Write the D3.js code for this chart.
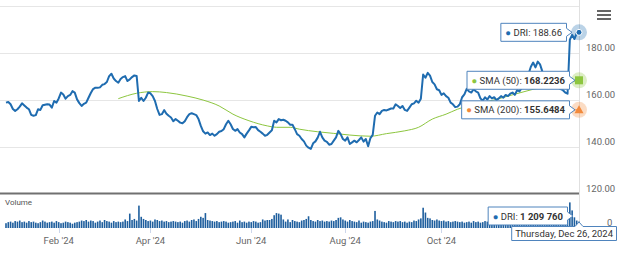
<!DOCTYPE html>
<html>
<head>
<meta charset="utf-8">
<script src="https://cdn.jsdelivr.net/npm/d3@7"></script>
<style>
  body { margin: 0; background: #fff; }
  text { font-family: Roboto, sans-serif; }
</style>
</head>
<body>
<script>
// daily closes, Dec 28 2023 .. Dec 26 2024 (trading days)
var price = [
  158.7,159,158,156,155.2,155.9,157,158.4,157.5,156.6,
  155.9,153.5,153.1,153.4,155.9,155.6,157.6,157.8,158,157.9,
  156.6,159.4,158.7,160.5,163,162.2,160.4,161.5,162,163.6,
  163,160.1,158.5,157.3,158.2,158.7,160.8,162.8,164.5,165.1,
  165,165.2,166.3,166.6,167.5,170,171,169,167.9,167.2,
  168.8,169.6,170,167.9,168.6,169.6,170.3,170.1,159.4,160.8,
  159.4,160.8,163,162.7,161.5,159.4,156,153.5,153.8,155.5,
  154,153.1,152.4,150.8,151.7,151,150.2,149.9,150.8,152.5,
  153.8,154.2,153.8,153.4,151.7,148.8,146.5,145.5,146,144.9,
  145.5,144.6,145.3,146.3,146.6,147.4,149.5,151,149.5,147.5,
  146.7,147.4,146,145.3,143.9,145.5,146.9,148.4,148.2,148.3,
  147,146.3,145.5,144.6,145,146,146.9,151,150.3,151.7,
  151.2,151.4,151,150.3,149.3,149.3,147.4,145.3,144.6,143.2,
  142.2,140.4,139.5,139,141.4,142.2,143.8,146.3,143.9,142.5,
  142,140.8,141.1,142.5,143.9,146.7,145.3,143.2,142.5,143.9,
  141.1,141.8,142.5,141.8,142.8,143.9,142.1,143.2,140.1,143.6,
  145,153.1,154.5,153.8,155.2,155.6,155.4,155.8,156.2,156.2,
  158,157.3,156.4,157.3,155.6,155.2,156.6,158,158.4,159.5,
  158.7,160.4,170.7,169.3,171.4,170.2,167.5,166.5,164.4,164,
  162,162.7,161.5,160.8,158.7,158,156.8,157,158,161,
  162.2,164.6,163.5,163,164.4,163.5,163,160.5,159.5,161,
  160,161.5,160.5,161,159.8,160.5,161.5,160.8,162,161.5,
  162.5,163,162,164,163.5,165,167.5,169.4,171,174,
  175.8,173.7,176.2,175,172,170,168.5,167.5,166.5,166,
  166.2,165,164.5,164,163,162.5,185.5,187.6,185.8,188.3,188.66
];

// daily volume, millions of shares
var volume = [
  0.9,1.1,1.2,1.0,1.3,1.2,1.4,1.1,1.2,1.0,
  1.3,1.1,1.2,1.0,0.9,1.1,1.4,1.2,1.0,1.1,
  1.2,1.0,1.3,1.1,0.9,1.0,1.2,1.1,1.0,0.8,
  1.0,1.1,1.2,1.4,1.3,1.5,1.2,1.4,1.3,1.0,
  1.2,1.4,1.1,1.5,1.3,1.2,1.0,1.3,1.1,1.2,
  1.1,1.2,1.6,1.3,2.7,1.5,1.7,1.4,4.2,2.1,
  1.7,1.5,1.3,1.4,1.2,1.6,1.5,1.3,1.4,1.2,
  1.3,1.1,1.2,1.3,1.2,1.1,1.2,1.0,1.3,1.4,
  1.2,1.5,1.6,1.3,1.7,2.1,1.9,2.8,1.5,1.4,
  1.3,1.2,1.3,1.1,1.2,1.3,1.2,1.0,1.1,1.2,
  1.3,1.0,1.4,1.1,1.2,1.0,1.2,1.1,1.3,1.2,
  1.0,1.1,1.6,1.4,1.5,1.5,1.7,2.4,2.8,2.7,
  2.5,1.6,1.2,1.6,1.1,1.5,1.3,1.2,1.1,1.4,
  1.5,1.7,2.2,1.5,1.3,1.2,1.5,1.3,1.4,1.2,
  1.3,1.2,1.4,1.3,1.5,1.9,2.0,1.6,1.4,1.2,
  1.5,1.3,1.2,1.1,1.4,1.0,1.2,1.1,1.0,1.2,
  1.3,3.2,1.6,1.4,1.2,1.1,1.0,1.3,1.2,1.1,
  1.3,1.2,1.3,1.1,1.2,1.0,1.2,1.1,1.4,1.3,
  1.6,1.8,3.8,2.9,1.9,1.8,1.5,1.4,1.6,1.4,
  1.3,1.4,1.2,1.3,1.1,1.2,1.3,1.2,1.1,1.2,
  1.0,1.1,1.2,1.0,1.3,1.1,1.2,1.0,1.1,1.3,
  1.2,1.0,1.1,1.4,1.2,1.0,1.2,1.1,1.3,1.5,
  1.4,1.2,1.3,1.6,1.4,1.5,1.2,1.3,1.7,1.4,
  1.3,1.5,1.2,1.4,1.6,1.3,1.2,1.4,1.3,1.1,
  1.2,1.0,1.3,1.4,1.6,1.8,4.8,3.3,2.0,1.4,1.21
];

// SMA lines at a few days
var sma50Idx = [49,57,64,70,79,86,93,99,106,114,118,124,128,136,143,150,159,166,174,180,186,192,197,214,230,245,250];
var sma50Val = [160.4,162.7,163.4,163,161.5,159.8,157.3,153.8,151,148.8,148.2,148.2,147.4,146.3,145.6,144.9,144.4,145.5,146.7,148.2,151.7,153.8,155.9,160.1,164.4,167.3,168.2236];
var sma200Idx = [199, 225, 250];
var sma200Val = [154.9, 155.3, 155.6484];

var tickIdx = [23, 63, 107, 148, 190];
var tickLabels = ["Feb '24", "Apr '24", "Jun '24", "Aug '24", "Oct '24"];
var yTicks = [120, 140, 160, 180, 200];
var lastDate = "Thursday, Dec 26, 2024";
var lastVolume = "1 209 760";

var width = 620, height = 255;
var plotRight = 579;
var blue = "#1f6cb0", green = "#8dc63f", orange = "#f28a3c";
var boxStroke = "#4f84bd";

var svg = d3.select("body").append("svg")
    .attr("width", width)
    .attr("height", height);

var x = d3.scaleLinear().domain([0, price.length - 1]).range([6, plotRight]);
var y = d3.scaleLinear().domain([120, 200]).range([193.5, 5.7]);
var yv = d3.scaleLinear().domain([0, 6]).range([228, 196]);

// grid
svg.append("g").selectAll("line")
    .data(yTicks.filter(d => d > 120))
    .enter().append("line")
    .attr("x1", 0).attr("x2", plotRight)
    .attr("y1", d => Math.round(y(d)) + 0.5).attr("y2", d => Math.round(y(d)) + 0.5)
    .attr("stroke", "#e6e6e6");

svg.append("line")
    .attr("x1", plotRight + 0.5).attr("x2", plotRight + 0.5)
    .attr("y1", 0).attr("y2", 228)
    .attr("stroke", "#e0e0e0");

// y labels
svg.append("g").selectAll("text")
    .data(yTicks.filter(d => d < 200))
    .enter().append("text")
    .attr("x", 586).attr("y", d => y(d) - 2)
    .attr("font-size", 9.5).attr("fill", "#666")
    .text(d => d.toFixed(2));

// SMA lines
var sma = (idx, val) => idx.map((d, i) => [d, val[i]]);
var smaLine = d3.line().x(d => x(d[0])).y(d => y(d[1])).curve(d3.curveMonotoneX);

svg.append("path")
    .attr("d", smaLine(sma(sma200Idx, sma200Val)))
    .attr("fill", "none").attr("stroke", orange).attr("stroke-width", 1);

svg.append("path")
    .attr("d", smaLine(sma(sma50Idx, sma50Val)))
    .attr("fill", "none").attr("stroke", green).attr("stroke-width", 1);

// price line
var line = d3.line().x((d, i) => x(i)).y(d => y(d));
svg.append("path")
    .attr("d", line(price))
    .attr("fill", "none").attr("stroke", blue)
    .attr("stroke-width", 2).attr("stroke-linejoin", "round");

// separator of the panes
svg.append("line")
    .attr("x1", 0).attr("x2", plotRight)
    .attr("y1", 193.5).attr("y2", 193.5)
    .attr("stroke", "#707070").attr("stroke-width", 2);

// volume
svg.append("text")
    .attr("x", 5).attr("y", 205)
    .attr("font-size", 8).attr("fill", "#555")
    .text("Volume");

svg.append("g").attr("fill", "#1f5f9e")
    .selectAll("rect")
    .data(volume)
    .enter().append("rect")
    .attr("x", (d, i) => x(i) - 0.8)
    .attr("y", d => yv(d))
    .attr("width", 1.6)
    .attr("height", d => yv(0) - yv(d));

svg.append("text")
    .attr("x", 607).attr("y", yv(0) - 2)
    .attr("font-size", 9.5).attr("fill", "#666")
    .text("0");

// x axis
svg.append("g").selectAll("line")
    .data(tickIdx)
    .enter().append("line")
    .attr("x1", d => Math.round(x(d)) + 0.5).attr("x2", d => Math.round(x(d)) + 0.5)
    .attr("y1", 228).attr("y2", 233)
    .attr("stroke", "#ccd6eb");

svg.append("g").selectAll("text")
    .data(tickIdx)
    .enter().append("text")
    .attr("x", d => x(d)).attr("y", 244)
    .attr("text-anchor", "middle")
    .attr("font-size", 9.5).attr("fill", "#666")
    .text((d, i) => tickLabels[i]);

// markers at last point
var last = price.length - 1;
var mx = x(last);

function halo(cy, color) {
    svg.append("circle").attr("cx", mx).attr("cy", cy).attr("r", 8)
        .attr("fill", color).attr("fill-opacity", 0.3);
}

halo(y(price[last]), blue);
svg.append("circle").attr("cx", mx).attr("cy", y(price[last])).attr("r", 3)
    .attr("fill", blue).attr("stroke", "#fff").attr("stroke-width", 1);

var y50 = y(sma50Val[sma50Val.length - 1]);
halo(y50, green);
svg.append("rect").attr("x", mx - 4).attr("y", y50 - 4)
    .attr("width", 8).attr("height", 8).attr("fill", green);

var y200 = y(sma200Val[sma200Val.length - 1]);
halo(y200, orange);
svg.append("path")
    .attr("d", `M${mx},${y200 - 4.5}L${mx + 4.5},${y200 + 3.5}L${mx - 4.5},${y200 + 3.5}Z`)
    .attr("fill", orange);

// callout labels
function callout(right, cy, dotColor, name, value, bold) {
    var g = svg.append("g");
    var box = g.append("path");
    var t = g.append("text").attr("font-size", 9.5).attr("fill", "#333")
        .attr("y", cy + 3.5);
    t.append("tspan").attr("fill", dotColor).text("\u25CF ");
    t.append("tspan").text(name);
    t.append("tspan").attr("font-weight", bold ? "bold" : "normal").text(value);
    var w = t.node().getComputedTextLength() + 10;
    var left = right - w;
    t.attr("x", left + 5);
    var top = cy - 9.5, bottom = cy + 9.5;
    box.attr("d", `M${left + 0.5},${top + 0.5}H${right - 0.5}V${cy - 4}L${right + 5},${cy}L${right - 0.5},${cy + 4}V${bottom - 0.5}H${left + 0.5}Z`)
        .attr("fill", "#fff").attr("stroke", boxStroke).attr("stroke-width", 1);
}

callout(mx - 12, y(price[last]), blue, "DRI: ", price[last].toFixed(2), false);
callout(mx - 9, y50, green, "SMA (50): ", sma50Val[sma50Val.length - 1].toFixed(4), true);
callout(mx - 9, y200, orange, "SMA (200): ", sma200Val[sma200Val.length - 1].toFixed(4), true);
callout(mx - 11, 216, blue, "DRI: ", lastVolume, true);

// date label under the last day
var dt = svg.append("g");
var dbox = dt.append("path");
var dtext = dt.append("text").attr("font-size", 9.5).attr("fill", "#333")
    .attr("y", 236.5).text(lastDate);
var dw = dtext.node().getComputedTextLength() + 8;
var dRight = 617, dLeft = dRight - dw;
dtext.attr("x", dLeft + 4);
dbox.attr("d", `M${dLeft + 0.5},226.5H${mx - 4}L${mx},222L${mx + 4},226.5H${dRight - 0.5}V240.5H${dLeft + 0.5}Z`)
    .attr("fill", "#fff").attr("stroke", boxStroke).attr("stroke-width", 1);

// menu button
svg.append("g").attr("fill", "#666")
    .selectAll("rect")
    .data([10, 14, 18])
    .enter().append("rect")
    .attr("x", 597).attr("y", d => d)
    .attr("width", 14).attr("height", 2);
</script>
</body>
</html>
